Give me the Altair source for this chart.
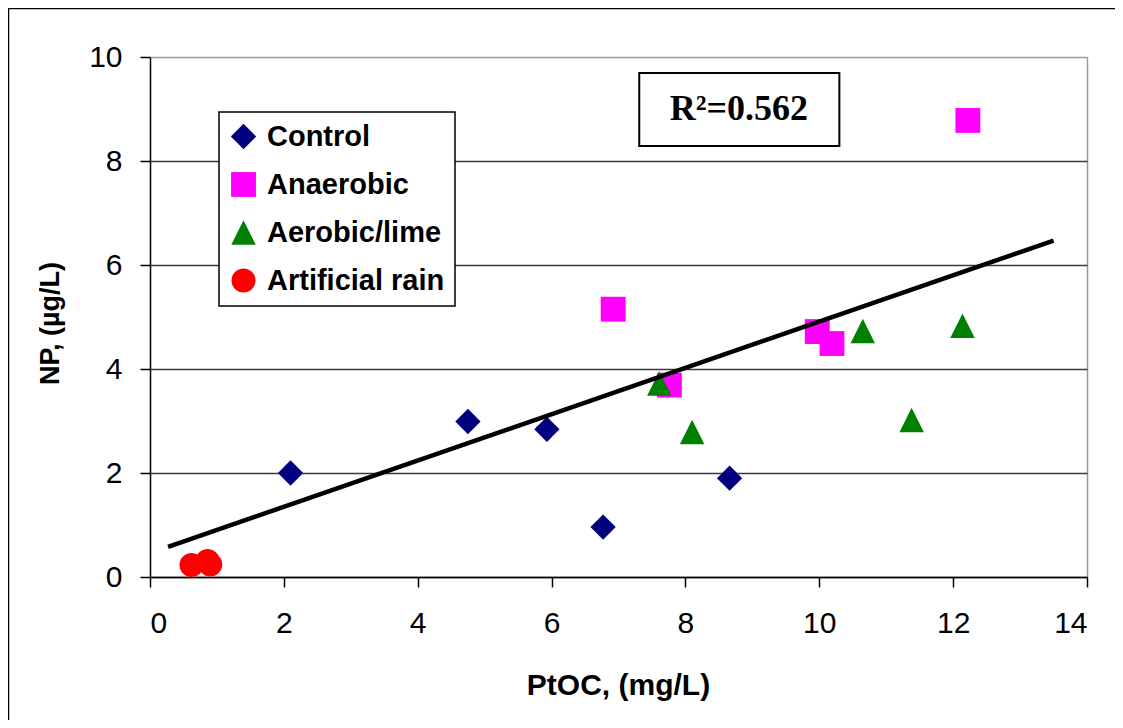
import altair as alt
import pandas as pd

# ---- data ----
categories = ["Control", "Anaerobic", "Aerobic/lime", "Artificial rain"]

control_x = [2.10, 4.75, 5.93, 6.77, 8.66]
control_y = [2.00, 2.99, 2.84, 0.96, 1.90]

anaerobic_x = [6.92, 7.76, 9.97, 10.19, 12.22]
anaerobic_y = [5.15, 3.69, 4.72, 4.49, 8.78]

aerobic_x = [7.61, 8.10, 10.65, 11.38, 12.14]
aerobic_y = [3.72, 2.79, 4.73, 3.02, 4.83]

rain_x = [0.62, 0.86, 0.90]
rain_y = [0.23, 0.31, 0.24]

trend_x = [0.27, 13.5]
trend_y = [0.58, 6.47]

x_ticks = [0, 2, 4, 6, 8, 10, 12, 14]
y_ticks = [0, 2, 4, 6, 8, 10]

r2_label = ["R²=0.562"]
r2_box_x = [7.31, 10.30]
r2_box_y = [8.29, 9.69]
r2_text_pos = [8.80, 8.79]

# ---- styling ----
colors = ["#000080", "#FF00FF", "#008000", "#FF0000"]
shapes = ["diamond", "square", "M0,-1L1,1L-1,1Z", "circle"]
sizes = [640, 576, 760, 484]

rows = []
for cat, xs, ys in zip(categories,
                       [control_x, anaerobic_x, aerobic_x, rain_x],
                       [control_y, anaerobic_y, aerobic_y, rain_y]):
    for xv, yv in zip(xs, ys):
        rows.append({"PtOC": xv, "NP": yv, "Group": cat})
points_df = pd.DataFrame(rows)
trend_df = pd.DataFrame({"PtOC": trend_x, "NP": trend_y})
box_df = pd.DataFrame({"x": [r2_box_x[0]], "x2": [r2_box_x[1]],
                       "y": [r2_box_y[0]], "y2": [r2_box_y[1]]})
r2_df = pd.DataFrame({"x": [r2_text_pos[0]], "y": [r2_text_pos[1]], "t": r2_label})

tick_font = "Liberation Sans Narrow, Arial Narrow, Liberation Sans, sans-serif"
title_font = "Liberation Sans, Arial, sans-serif"

x_scale = alt.Scale(domain=[0, 14], nice=False, zero=False)
y_scale = alt.Scale(domain=[0, 10], nice=False, zero=False)

x_axis = alt.Axis(
    title="PtOC, (mg/L)", values=x_ticks, format="d",
    grid=True, gridColor="#9a9a9a", gridWidth=1.5,
    gridOpacity={"condition": {"test": "datum.value === 14", "value": 1}, "value": 0},
    domainColor="black", domainWidth=1.5, tickColor="black", tickWidth=1.5, tickSize=10,
    labelFont=tick_font, labelFontSize=30, labelColor="black",
    labelBaseline="middle", labelPadding=36,
    titleFont=title_font, titleFontSize=30, titleFontWeight="bold", titleColor="black",
    titleBaseline="middle", titleY=108, titleX=468,
)
y_axis = alt.Axis(
    title="NP, (µg/L)", values=y_ticks, format="d",
    grid=True, gridWidth=1.6,
    gridColor={"condition": {"test": "datum.value === 10", "value": "#9a9a9a"}, "value": "#3a3a3a"},
    domainColor="black", domainWidth=1.5, tickColor="black", tickWidth=1.5, tickSize=10,
    labelFont=tick_font, labelFontSize=30, labelColor="black", labelPadding=18,
    titleFont=title_font, titleFontSize=27, titleFontWeight="bold", titleColor="black",
    titleAngle=270, titleAlign="center", titleBaseline="middle", titleX=-100, titleY=266,
)

legend_obj = alt.Legend(title=None, orient="none", legendX=69, legendY=55)

# outer frame edges on the left and top (decoration)
frame_left = alt.Chart(alt.Data(values=[{}])).mark_rule(color="black", strokeWidth=1.5).encode(
    x=alt.value(-141.5), y=alt.value(-48.5), y2=alt.value(663)
)
frame_top = alt.Chart(alt.Data(values=[{}])).mark_rect(color="black", strokeWidth=0).encode(
    x=alt.value(-142), x2=alt.value(965), y=alt.value(-49.25), y2=alt.value(-47.75)
)

points = alt.Chart(points_df).mark_point(filled=True, opacity=1, strokeWidth=0).encode(
    x=alt.X("PtOC:Q", scale=x_scale, axis=x_axis),
    y=alt.Y("NP:Q", scale=y_scale, axis=y_axis),
    color=alt.Color("Group:N", scale=alt.Scale(domain=categories, range=colors), legend=legend_obj),
    shape=alt.Shape("Group:N", scale=alt.Scale(domain=categories, range=shapes), legend=legend_obj),
    size=alt.Size("Group:N", scale=alt.Scale(domain=categories, range=sizes), legend=None),
)

trend = alt.Chart(trend_df).mark_line(color="black", strokeWidth=4.5).encode(
    x=alt.X("PtOC:Q", scale=x_scale),
    y=alt.Y("NP:Q", scale=y_scale),
)

box = alt.Chart(box_df).mark_rect(fill="white", stroke="black", strokeWidth=2).encode(
    x=alt.X("x:Q", scale=x_scale), x2="x2:Q",
    y=alt.Y("y:Q", scale=y_scale), y2="y2:Q",
)

r2_text = alt.Chart(r2_df).mark_text(
    font="Liberation Serif, Times New Roman, serif", fontSize=36, fontWeight="bold",
    color="black", align="center", baseline="alphabetic"
).encode(
    x=alt.X("x:Q", scale=x_scale),
    y=alt.Y("y:Q", scale=y_scale),
    text="t:N",
)

chart = alt.layer(frame_left, frame_top, box, r2_text, points, trend).properties(
    width=937, height=520,
    autosize=alt.AutoSizeParams(type="none"),
    padding={"left": 142, "top": 49, "right": 28, "bottom": 143},
    background="white",
).configure_view(
    strokeWidth=0
).configure_legend(
    strokeColor="black", strokeWidth=1.5, fillColor="white", padding=10,
    symbolSize=500, symbolStrokeWidth=0, symbolOpacity=1,
    labelFont=title_font, labelFontSize=29, labelFontWeight="bold", labelColor="black",
    rowPadding=18, labelOffset=9, labelLimit=400, cornerRadius=0,
)

chart.save("out.html", embed_options={"renderer": "svg", "actions": False})
